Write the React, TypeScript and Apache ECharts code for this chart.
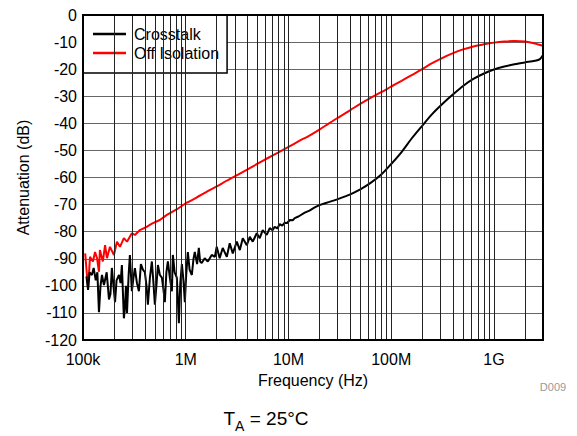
import React, { useEffect, useRef } from "react";
import * as echarts from "echarts";

const FONT = "'Liberation Sans', Arial, Helvetica, sans-serif";

// Crosstalk (black), noisy low-frequency part: frequency in Hz, attenuation in dB
const crosstalkNoisyFreq = [
  108e3, 112e3, 116e3, 122e3, 127e3, 133e3, 138e3, 143e3, 148e3, 153e3,
  160e3, 170e3, 179e3, 185e3, 191e3, 198e3, 205e3, 212e3, 224e3, 232e3,
  239e3, 250e3, 256e3, 262e3, 268e3, 278e3, 286e3, 299e3, 310e3, 320e3,
  335e3, 350e3, 366e3, 383e3, 400e3, 415e3, 428e3, 448e3, 468e3, 485e3,
  501e3, 518e3, 536e3, 560e3, 586e3, 605e3, 626e3, 648e3, 670e3, 700e3,
  733e3, 749e3, 780e3, 819e3, 838e3, 857e3, 885e3, 917e3, 950e3, 980e3,
  1.01e6, 1.048e6, 1.09e6, 1.146e6, 1.19e6, 1.225e6, 1.29e6, 1.34e6, 1.38e6, 1.43e6,
  1.53e6, 1.64e6, 1.79e6, 1.92e6, 2.0e6, 2.14e6, 2.29e6, 2.51e6, 2.68e6, 2.87e6,
  3.14e6, 3.36e6, 3.59e6, 3.93e6, 4.2e6, 4.49e6, 4.91e6, 5.25e6, 5.61e6, 6.14e6,
  6.57e6, 7.0e6, 7.34e6, 7.8e6, 8.21e6, 8.7e6, 9.19e6, 9.7e6, 10.3e6, 11e6,
  11.5e6, 12.5e6, 14.4e6, 16e6, 18e6, 20e6,
];
const crosstalkNoisyDb = [
  -96.5, -101.5, -95, -96, -93.4, -98, -95, -109.7, -100, -96,
  -99.7, -95, -105, -103, -93.4, -100, -106, -98, -96, -99,
  -92.3, -112, -108, -100, -110, -96, -88.6, -102, -97, -93.5,
  -99, -102, -92, -94, -95, -100, -107, -97, -91, -99,
  -107, -100, -92.3, -96, -97, -101, -106, -95, -91, -97,
  -102, -88.6, -95, -97, -105, -113.8, -99, -92, -98, -106,
  -96, -87.5, -94, -96, -90, -87.5, -92, -86, -91, -91.6,
  -89.8, -91, -88.6, -89.3, -85.6, -89.8, -86, -89.3, -84.3, -88,
  -83.7, -86.8, -82.4, -85, -81.9, -83.7, -80.6, -82.4, -79.4, -81.2,
  -78.7, -79.5, -78.2, -78.8, -77.2, -77.8, -76.7, -76.8, -75.7, -75.8,
  -75, -74.4, -73, -72.2, -71, -70.2,
];

// Crosstalk (black), smooth high-frequency part
const crosstalkSmoothFreq = [
  20e6, 25e6, 31.6e6, 40e6, 50e6, 63e6, 80e6, 100e6, 126e6, 158e6,
  200e6, 250e6, 316e6, 400e6, 500e6, 630e6, 800e6, 1.0e9, 1.26e9, 1.58e9,
  2.0e9, 2.5e9, 2.8e9, 3.0e9,
];
const crosstalkSmoothDb = [
  -70.2, -69.0, -67.7, -66.2, -64.4, -62.0, -58.9, -55.0, -50.6, -45.6,
  -40.9, -36.6, -32.8, -29.3, -26.2, -23.6, -21.6, -20.1, -19.0, -18.2,
  -17.5, -16.9, -16.3, -14.8,
];

// Off Isolation (red), noisy low-frequency part
const isolationNoisyFreq = [
  105e3, 112e3, 117e3, 125e3, 131e3, 137e3, 143e3, 146e3, 156e3, 164e3,
  171e3, 183e3, 200e3, 214e3, 229e3, 250e3, 268e3, 299e3, 320e3, 358e3,
  416e3, 468e3, 560e3, 655e3, 814e3, 1.0e6,
];
const isolationNoisyDb = [
  -88, -101, -89.3, -91, -87.5, -89.8, -94.8, -86.8, -91, -85,
  -89.8, -85.6, -88.6, -83.7, -85.6, -82.4, -83.7, -80.6, -81.2, -79.4,
  -78.2, -77, -75.7, -73.8, -71.8, -69.5,
];

// Off Isolation (red), smooth part
const isolationSmoothFreq = [
  1.0e6, 1.26e6, 1.58e6, 2e6, 2.5e6, 3.16e6, 4e6, 5e6, 6.3e6, 8e6,
  10e6, 12.6e6, 16e6, 20e6, 25e6, 31.6e6, 40e6, 50e6, 63e6, 80e6,
  100e6, 126e6, 158e6, 200e6, 250e6, 316e6, 400e6, 500e6, 630e6, 800e6,
  1.0e9, 1.26e9, 1.58e9, 2.0e9, 2.5e9, 3.0e9,
];
const isolationSmoothDb = [
  -69.5, -67.5, -65.4, -63.3, -61.2, -59.1, -57.0, -54.9, -52.8, -50.7,
  -48.7, -46.6, -44.5, -42.3, -39.9, -37.5, -35.1, -32.8, -30.6, -28.5,
  -26.4, -24.3, -22.2, -20.0, -17.8, -15.8, -14.1, -12.7, -11.6, -10.8,
  -10.2, -9.8, -9.6, -9.8, -10.5, -11.4,
];

// Vertical grid lines (Hz)
const gridFreqs = [
  2e5, 3e5, 4e5, 5e5, 6e5, 7e5, 8e5, 9e5,
  1e6, 2e6, 3e6, 4e6, 5e6, 6e6, 7e6, 8e6, 9e6,
  1e7, 2e7, 3e7, 4e7, 5e7, 6e7, 7e7, 8e7, 9e7,
  1e8, 2e8, 3e8, 4e8, 5e8, 6e8, 7e8, 8e8, 9e8,
  1e9, 2e9,
];

const xTickLabels: Record<number, string> = { 5: "100k", 6: "1M", 7: "10M", 8: "100M", 9: "1G" };

const X_MIN = 1e5;
const X_MAX = 3e9;
const Y_MIN = -120;
const Y_MAX = 0;
const Y_STEP = 10;

const GRID = { left: 83, top: 15, right: 34, bottom: 96 };
const W = 577;
const H = 436;

function pairs(freq: number[], db: number[]) {
  return freq.map((f, i) => [f, db[i]]);
}

export default function App() {
  const ref = useRef<HTMLDivElement>(null);

  useEffect(() => {
    if (!ref.current) return;
    const chart = echarts.init(ref.current, undefined, { renderer: "svg" });
    const pw = W - GRID.left - GRID.right;
    const ph = H - GRID.top - GRID.bottom;

    const lineBase = (name: string, color: string, data: number[][], smooth: number | boolean, z: number) => ({
      name,
      type: "line",
      data,
      showSymbol: false,
      smooth,
      lineStyle: { color, width: 2 },
      itemStyle: { color },
      z,
    });

    chart.setOption({
      animation: false,
      textStyle: { fontFamily: FONT },
      grid: { ...GRID, containLabel: false, outerBoundsMode: "none" },
      legend: {
        left: GRID.left,
        top: GRID.top,
        orient: "vertical",
        backgroundColor: "#fff",
        borderColor: "#000",
        borderWidth: 1.5,
        borderRadius: 0,
        padding: [11, 8, 12, 10],
        itemWidth: 33,
        itemHeight: 2.5,
        itemGap: 3,
        icon: "rect",
        textStyle: { fontSize: 16, color: "#000", fontFamily: FONT, lineHeight: 16, padding: [0, 0, 0, 3] },
        data: [
          { name: "Crosstalk", icon: "rect", itemStyle: { color: "#000" } },
          { name: "Off Isolation", icon: "rect", itemStyle: { color: "#ff0000" } },
        ],
      },
      xAxis: {
        type: "log",
        logBase: 10,
        min: X_MIN,
        max: X_MAX,
        axisLine: { show: false },
        axisTick: { show: false },
        splitLine: { show: false },
        axisLabel: {
          fontSize: 16,
          color: "#000",
          margin: 11,
          fontFamily: FONT,
          formatter: (v: number) => {
            const e = Math.log10(v);
            const r = Math.round(e);
            if (Math.abs(e - r) < 1e-6 && xTickLabels[r]) return xTickLabels[r];
            return "";
          },
        },
      },
      yAxis: {
        type: "value",
        min: Y_MIN,
        max: Y_MAX,
        interval: Y_STEP,
        axisLine: { show: false },
        axisTick: { show: false },
        axisLabel: { fontSize: 16, color: "#000", margin: 6, fontFamily: FONT },
        splitLine: { show: true, lineStyle: { color: "#666", width: 1.2 } },
      },
      series: [
        {
          name: "grid",
          type: "line",
          data: [],
          z: 1,
          silent: true,
          markLine: {
            silent: true,
            symbol: "none",
            label: { show: false },
            lineStyle: { color: "#222", width: 1, type: "solid" },
            data: gridFreqs.map((f) => ({ xAxis: f })),
          },
        },
        lineBase("Off Isolation", "#ff0000", pairs(isolationNoisyFreq, isolationNoisyDb), false, 3),
        lineBase("Off Isolation", "#ff0000", pairs(isolationSmoothFreq, isolationSmoothDb), 0.3, 3),
        lineBase("Crosstalk", "#000", pairs(crosstalkNoisyFreq, crosstalkNoisyDb), false, 4),
        lineBase("Crosstalk", "#000", pairs(crosstalkSmoothFreq, crosstalkSmoothDb), 0.3, 4),
      ],
      graphic: [
        {
          type: "rect",
          z: 100,
          silent: true,
          shape: { x: GRID.left, y: GRID.top, width: pw, height: ph },
          style: { fill: "none", stroke: "#000", lineWidth: 2 },
        },
        {
          type: "text",
          x: 23,
          y: GRID.top + ph / 2,
          rotation: Math.PI / 2,
          style: {
            text: "Attenuation (dB)",
            fontSize: 16,
            fontFamily: FONT,
            fill: "#000",
            align: "center",
            verticalAlign: "middle",
          },
        },
        {
          type: "text",
          x: GRID.left + pw / 2,
          y: 380,
          style: {
            text: "Frequency (Hz)",
            fontSize: 16,
            fontFamily: FONT,
            fill: "#000",
            align: "center",
            verticalAlign: "middle",
          },
        },
        {
          type: "text",
          x: 553,
          y: 387,
          style: {
            text: "D009",
            fontSize: 11,
            fontFamily: FONT,
            fill: "#999",
            align: "center",
            verticalAlign: "middle",
          },
        },
        {
          type: "text",
          x: 266,
          y: 420,
          style: {
            text: "{t|T}{s|A}{t| = 25°C}",
            fontFamily: FONT,
            fill: "#000",
            align: "center",
            verticalAlign: "middle",
            rich: {
              t: { fontSize: 19, fontFamily: FONT, fill: "#000", lineHeight: 22, verticalAlign: "top" },
              s: { fontSize: 14, fontFamily: FONT, fill: "#000", lineHeight: 22, padding: [10, 0, 0, 0], verticalAlign: "top" },
            },
          },
        },
      ],
    });

    return () => chart.dispose();
  }, []);

  return (
    <div
      ref={ref}
      style={{ position: "fixed", left: 0, top: 0, width: W, height: H, background: "#fff" }}
    />
  );
}
